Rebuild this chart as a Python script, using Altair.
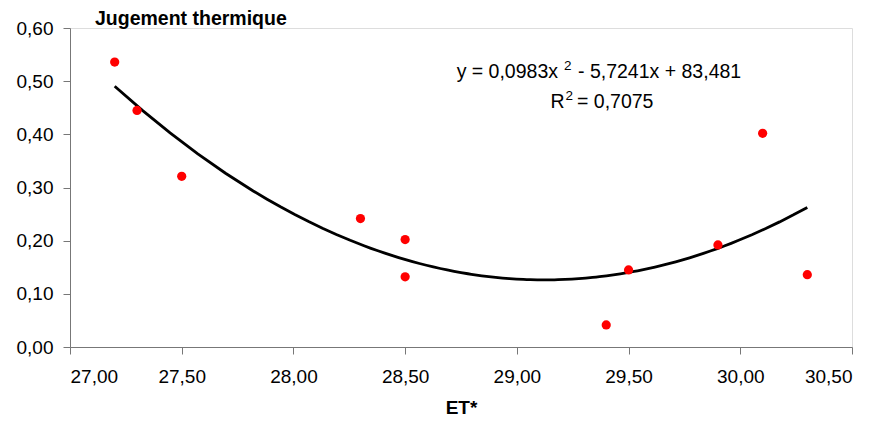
import altair as alt
import pandas as pd

# Data
et = [27.2, 27.3, 27.5, 28.3, 28.5, 28.5, 29.4, 29.5, 29.9, 30.1, 30.3]
jugement = [0.536, 0.445, 0.321, 0.2415, 0.202, 0.132, 0.0415, 0.145, 0.192, 0.402, 0.136]
x_ticks = [27.0, 27.5, 28.0, 28.5, 29.0, 29.5, 30.0, 30.5]
y_ticks = [0.0, 0.1, 0.2, 0.3, 0.4, 0.5, 0.6]
eq_left = ["y = 0,0983x"]
eq_right = ["- 5,7241x + 83,481"]
r2_left = ["R"]
r2_right = ["= 0,7075"]
superscript = ["2"]
chart_title = ["Jugement thermique"]
x_title = "ET*"

FONT = "Liberation Sans"
fmt = "replace(format(datum.value, '.2f'), '.', ',')"

df = pd.DataFrame({"ET": et, "J": jugement})

x_enc = alt.X(
    "ET:Q",
    scale=alt.Scale(domain=[27.0, 30.5], nice=False, zero=False),
    axis=alt.Axis(values=x_ticks, labelExpr=fmt, title=x_title, grid=False,
                  labelFontSize=19, titleFontSize=19, titleFontWeight="bold",
                  labelColor="black", titleColor="black", domainColor="#777",
                  tickColor="#777", tickSize=7, labelPadding=13, titlePadding=12,
                  labelFont=FONT, titleFont=FONT),
)
y_enc = alt.Y(
    "J:Q",
    scale=alt.Scale(domain=[0.0, 0.6], nice=False),
    axis=alt.Axis(values=y_ticks, labelExpr=fmt, title=None, grid=False,
                  labelFontSize=19, labelColor="black", domainColor="#777",
                  tickColor="#777", tickSize=7, labelPadding=10, labelFont=FONT),
)

base = alt.Chart(df)

points = base.mark_circle(color="#ff0000", opacity=1, size=85).encode(x=x_enc, y=y_enc)

trend = base.transform_regression(
    "ET", "J", method="poly", order=2, extent=[27.2, 30.3]
).mark_line(color="black", strokeWidth=2.8).encode(x="ET:Q", y="J:Q")


def label(values, x, y, size, align="left", weight="normal"):
    return alt.Chart(pd.DataFrame({"t": values})).mark_text(
        font=FONT, fontSize=size, color="black", align=align,
        baseline="alphabetic", fontWeight=weight
    ).encode(x=alt.value(x), y=alt.value(y), text="t:N")


texts = [
    label(chart_title, 25, -3, 19.5, weight="bold"),
    label(eq_left, 488, 50, 19.5, align="right"),
    label(superscript, 494, 42, 13.5),
    label(eq_right, 508, 50, 19.5),
    label(r2_left, 480.5, 80, 19.5),
    label(superscript, 495.5, 72, 13.5),
    label(r2_right, 507, 80, 19.5),
]

chart = alt.layer(trend, points, *texts).properties(
    width=782,
    height=319,
    autosize=alt.AutoSizeParams(type="none"),
    padding={"left": 62, "top": 20, "right": 18, "bottom": 70},
).configure_view(stroke=None).configure(background="white")

chart.save("out.html", embed_options={"renderer": "svg", "actions": False})
